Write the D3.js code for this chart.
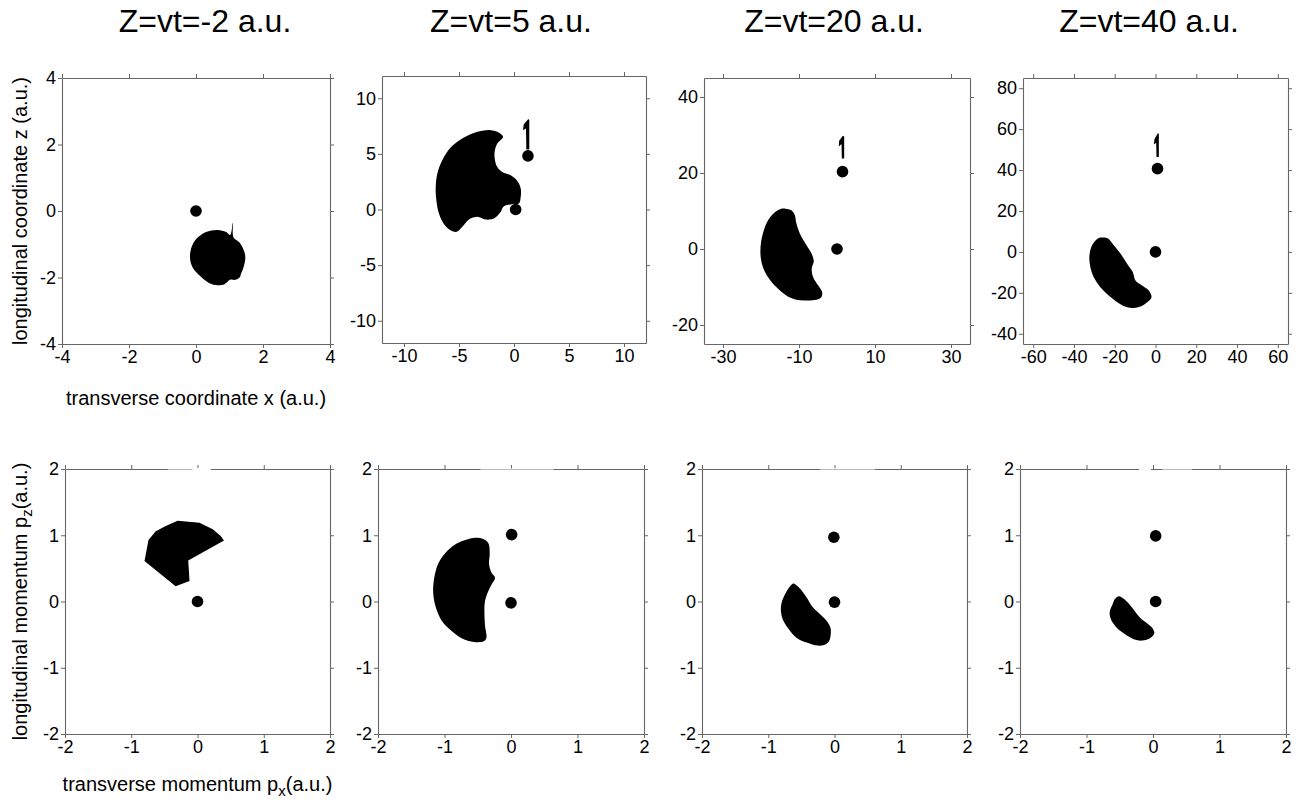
<!DOCTYPE html>
<html>
<head>
<meta charset="utf-8">
<script src="https://cdn.jsdelivr.net/npm/d3@7"></script>
<style>
  body { margin: 0; background: #fff; }
  svg { display: block; font-family: "Liberation Sans", Arial, sans-serif; }
</style>
</head>
<body>
<div id="chart"></div>
<script>
// snapshots Z = vt
var zValues = [-2, 5, 20, 40];

// top row: coordinate space (x, z)
var posXDomains = [[-4, 4], [-12, 12], [-35, 35], [-65, 65]];
var posYDomains = [[-4, 4], [-12, 12], [-25, 45], [-45, 85]];
var posXTicks = [[-4, -2, 0, 2, 4], [-10, -5, 0, 5, 10], [-30, -10, 10, 30], [-60, -40, -20, 0, 20, 40, 60]];
var posYTicks = [[-4, -2, 0, 2, 4], [-10, -5, 0, 5, 10], [-20, 0, 20, 40], [-40, -20, 0, 20, 40, 60, 80]];

// bottom row: momentum space (px, pz)
var momDomain = [-2, 2];
var momTicks = [-2, -1, 0, 1, 2];

// electron cloud contours, coordinate space
var posBlob1 = [[0.64, -0.57], [0.9, -0.63], [1.02, -0.72], [1.1, -0.35], [1.12, -0.8], [1.3, -0.95], [1.45, -1.25],
  [1.47, -1.45], [1.4, -1.75], [1.35, -1.87], [1.3, -2.0], [1.17, -2.07], [1.03, -2.06], [0.85, -2.2], [0.64, -2.23],
  [0.4, -2.17], [0.14, -1.97], [-0.1, -1.7], [-0.18, -1.4], [-0.12, -1.05], [0.05, -0.8], [0.3, -0.63]];
var posBlob2 = [[-2.12, 7.13], [-1.52, 6.98], [-1.0, 6.53], [-1.52, 5.93], [-1.76, 5.18], [-1.73, 4.43], [-1.52, 3.83],
  [-1.06, 3.38], [-0.3, 3.08], [0.3, 2.57], [0.61, 1.89], [0.61, 1.14], [0.45, 0.54], [-0.15, 0.48], [-0.91, 0.3],
  [-1.27, -0.3], [-1.82, -0.81], [-2.58, -0.9], [-3.33, -0.66], [-4.09, -0.9], [-4.7, -1.56], [-5.21, -2.01],
  [-5.76, -1.86], [-6.36, -1.32], [-6.82, -0.36], [-7.06, 0.84], [-7.12, 1.89], [-6.97, 3.23], [-6.52, 4.43],
  [-5.76, 5.57], [-4.85, 6.29], [-3.79, 6.83], [-2.88, 7.07]];
var posBlob3 = [[-13.52, 10.62], [-12.03, 10.18], [-11.15, 9.03], [-10.7, 6.81], [-9.82, 4.16], [-8.06, 1.06],
  [-6.74, -1.15], [-6.12, -3.19], [-6.65, -5.13], [-6.3, -7.35], [-4.98, -9.56], [-3.92, -11.33], [-4.1, -12.65],
  [-5.42, -13.36], [-8.06, -13.54], [-10.7, -13.36], [-13.35, -12.21], [-15.99, -10.0], [-18.19, -7.35],
  [-19.52, -4.69], [-20.13, -1.59], [-19.96, 1.95], [-19.07, 5.49], [-17.75, 8.14], [-15.99, 9.91], [-14.67, 10.62]];
var posBlob4 = [[-25.41, 7.05], [-23.28, 6.56], [-20.49, 3.28], [-17.21, -0.82], [-13.93, -5.74], [-11.15, -9.84],
  [-9.84, -13.93], [-6.56, -16.39], [-3.28, -18.85], [-1.97, -22.13], [-4.1, -24.59], [-7.38, -26.72],
  [-10.66, -27.38], [-13.93, -27.05], [-18.03, -25.08], [-22.95, -21.31], [-27.05, -17.21], [-30.33, -12.3],
  [-31.97, -7.38], [-32.46, -2.46], [-31.48, 2.46], [-29.51, 5.41], [-27.54, 6.89]];

// small "flag" marks above the upper nucleus
var posFlag2 = [[1.12, 5.39], [1.09, 7.28], [0.82, 7.13], [0.88, 7.63], [1.3, 8.14], [1.39, 8.02], [1.39, 5.39]];
var posFlag3 = [[1.28, 23.8], [1.19, 27.6], [0.48, 27.0], [0.57, 28.5], [1.54, 29.8], [1.89, 29.6], [1.89, 23.8]];
var posFlag4 = [[0.49, 46.4], [0.33, 53.3], [-0.82, 52.5], [-0.49, 55.2], [1.31, 58.2], [1.64, 57.4], [1.64, 46.4]];

// nuclei positions
var posDots = [[[0, 0]], [[0.15, 0], [1.27, 4.82]], [[0, 0], [1.45, 20.35]], [[0, 0], [0.98, 40.7]]];

// electron cloud contours, momentum space
var momBlob1 = [[-0.8, 0.61], [-0.74, 0.93], [-0.63, 1.06], [-0.48, 1.14], [-0.3, 1.22], [0.03, 1.19], [0.23, 1.09],
  [0.35, 0.99], [0.4, 0.92], [-0.14, 0.62], [-0.12, 0.31], [-0.2, 0.28], [-0.33, 0.23]];
var momBlob2 = [[-0.56, 0.96], [-0.41, 0.94], [-0.34, 0.88], [-0.32, 0.73], [-0.33, 0.56], [-0.29, 0.43], [-0.24, 0.36],
  [-0.29, 0.26], [-0.34, 0.16], [-0.39, 0.01], [-0.4, -0.17], [-0.39, -0.37], [-0.37, -0.55], [-0.41, -0.6],
  [-0.56, -0.61], [-0.71, -0.57], [-0.86, -0.47], [-1.02, -0.32], [-1.12, -0.12], [-1.17, 0.13], [-1.15, 0.38],
  [-1.09, 0.58], [-0.99, 0.73], [-0.84, 0.86], [-0.71, 0.92]];
var momBlob3 = [[-0.62, 0.27], [-0.57, 0.24], [-0.49, 0.16], [-0.42, 0.06], [-0.34, -0.07], [-0.24, -0.17],
  [-0.12, -0.29], [-0.06, -0.4], [-0.06, -0.52], [-0.09, -0.61], [-0.17, -0.66], [-0.29, -0.66], [-0.42, -0.62],
  [-0.57, -0.55], [-0.69, -0.42], [-0.78, -0.27], [-0.81, -0.12], [-0.79, 0.01], [-0.73, 0.14], [-0.67, 0.23]];
var momBlob4 = [[-0.51, 0.08], [-0.44, 0.04], [-0.35, -0.05], [-0.27, -0.15], [-0.19, -0.25], [-0.09, -0.33],
  [-0.01, -0.4], [0.02, -0.48], [-0.04, -0.55], [-0.16, -0.59], [-0.29, -0.57], [-0.44, -0.48], [-0.56, -0.38],
  [-0.64, -0.25], [-0.65, -0.15], [-0.61, -0.05], [-0.57, 0.04]];
var momDots = [[[0, 0]], [[0.01, 1.01], [0, -0.02]], [[-0.01, 0.97], [0, -0.01]], [[0.04, 0.99], [0.04, 0.0]]];

// layout (pixel boxes: x0, y0, x1, y1)
var topBoxes = [[62, 78, 330, 344], [382, 76, 646, 343], [704, 78, 970, 344], [1023, 78, 1288, 344]];
var botBoxes = [[65, 469, 330, 734], [378, 469, 644, 734], [702, 469, 967, 734], [1020, 469, 1286, 734]];
var titleX = [205, 511, 834, 1149];
// faded parts of the upper frame in the momentum plots [x0, x1, opacity]
var frameGaps = [[[-0.08, 0.2, 1], [-0.45, -0.08, 0.5]], [[-0.46, 0.64, 0.55]], [[-0.22, 0.61, 0.55]], [[-0.21, -0.03, 1], [0.14, 0.59, 0.55]]];

var width = 1304, height = 802;
var axisColor = "#666";

var svg = d3.select("#chart").append("svg")
  .attr("width", width)
  .attr("height", height);

svg.append("rect").attr("width", width).attr("height", height).attr("fill", "#fff");

var fmt = function (d) { return String(d); };

function drawPanel(box, xDom, yDom, xTicks, yTicks, blob, linear, dots, flag, gaps) {
  var x = d3.scaleLinear().domain(xDom).range([box[0], box[2]]);
  var y = d3.scaleLinear().domain(yDom).range([box[3], box[1]]);
  var g = svg.append("g");

  // shapes
  var line = d3.line()
    .x(function (d) { return x(d[0]); })
    .y(function (d) { return y(d[1]); })
    .curve(linear ? d3.curveLinearClosed : d3.curveCatmullRomClosed.alpha(0.5));
  g.append("path").attr("d", line(blob)).attr("fill", "#000");

  if (flag) {
    g.append("path")
      .attr("d", d3.line().x(function (d) { return x(d[0]); }).y(function (d) { return y(d[1]); }).curve(d3.curveLinearClosed)(flag))
      .attr("fill", "#000");
  }

  g.selectAll(".dot").data(dots).enter().append("circle")
    .attr("cx", function (d) { return x(d[0]); })
    .attr("cy", function (d) { return y(d[1]); })
    .attr("r", 5.8)
    .attr("fill", "#000");

  // frame with ticks on all four sides
  var axes = [
    [d3.axisBottom(x).tickValues(xTicks).tickFormat(fmt), "translate(0," + box[3] + ")"],
    [d3.axisLeft(y).tickValues(yTicks).tickFormat(fmt), "translate(" + box[0] + ",0)"],
    [d3.axisTop(x).tickValues(xTicks).tickFormat(""), "translate(0," + box[1] + ")"],
    [d3.axisRight(y).tickValues(yTicks).tickFormat(""), "translate(" + box[2] + ",0)"]
  ];
  axes.forEach(function (a) {
    var ag = g.append("g")
      .attr("transform", a[1])
      .call(a[0].tickSize(4).tickSizeOuter(0).tickPadding(2));
    ag.select(".domain").attr("stroke", axisColor).attr("stroke-width", 1.1);
    ag.selectAll(".tick line").attr("stroke", axisColor);
    ag.selectAll(".tick text")
      .attr("fill", "#000")
      .style("font-size", "18px")
      .style("font-family", "'Liberation Sans', Arial, sans-serif");
  });

  if (gaps) {
    gaps.forEach(function (gp) {
      g.append("line")
        .attr("x1", x(gp[0])).attr("x2", x(gp[1]))
        .attr("y1", box[1]).attr("y2", box[1])
        .attr("stroke", "#fff")
        .attr("stroke-width", 2)
        .attr("opacity", gp[2]);
    });
  }
  return { x: x, y: y };
}

var posBlobs = [posBlob1, posBlob2, posBlob3, posBlob4];
var posFlags = [null, posFlag2, posFlag3, posFlag4];
var momBlobs = [momBlob1, momBlob2, momBlob3, momBlob4];

zValues.forEach(function (z, i) {
  drawPanel(topBoxes[i], posXDomains[i], posYDomains[i], posXTicks[i], posYTicks[i],
    posBlobs[i], false, posDots[i], posFlags[i], null);
  drawPanel(botBoxes[i], momDomain, momDomain, momTicks, momTicks,
    momBlobs[i], i === 0, momDots[i], null, frameGaps[i]);

  svg.append("text")
    .attr("x", titleX[i])
    .attr("y", 32)
    .attr("text-anchor", "middle")
    .style("font-size", "32px")
    .text("Z=vt=" + z + " a.u.");
});

// axis titles
var tb = topBoxes[0], bb = botBoxes[0];
svg.append("text")
  .attr("x", (tb[0] + tb[2]) / 2).attr("y", 405)
  .attr("text-anchor", "middle").style("font-size", "20px")
  .text("transverse coordinate x (a.u.)");

svg.append("text")
  .attr("transform", "translate(27," + ((tb[1] + tb[3]) / 2) + ") rotate(-90)")
  .attr("text-anchor", "middle").style("font-size", "20px")
  .text("longitudinal coordinate z (a.u.)");

var xl = svg.append("text")
  .attr("x", (bb[0] + bb[2]) / 2).attr("y", 791)
  .attr("text-anchor", "middle").style("font-size", "20px");
xl.append("tspan").text("transverse momentum p");
xl.append("tspan").attr("dy", 5).style("font-size", "15px").text("x");
xl.append("tspan").attr("dy", -5).text("(a.u.)");

var yl = svg.append("text")
  .attr("transform", "translate(27," + ((bb[1] + bb[3]) / 2) + ") rotate(-90)")
  .attr("text-anchor", "middle").style("font-size", "20px");
yl.append("tspan").text("longitudinal momentum p");
yl.append("tspan").attr("dy", 5).style("font-size", "15px").text("z");
yl.append("tspan").attr("dy", -5).text("(a.u.)");
</script>
</body>
</html>
